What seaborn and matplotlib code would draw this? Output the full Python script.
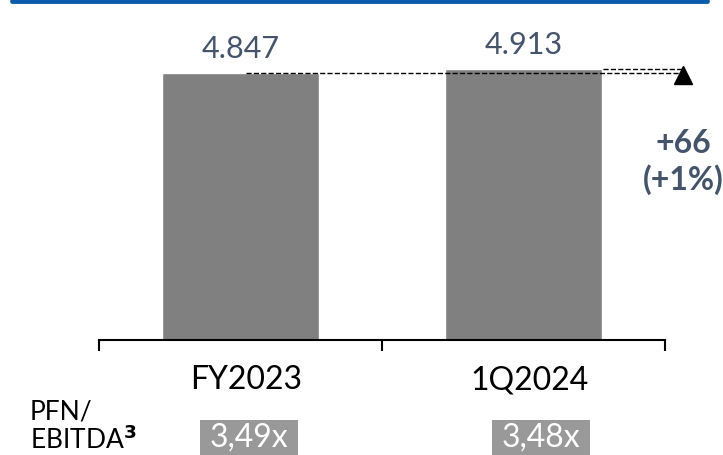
import matplotlib
matplotlib.use("Agg")
import matplotlib.pyplot as plt
import seaborn as sns
import pandas as pd

# data
periods = ["FY2023", "1Q2024"]
debt = [4847, 4913]
value_labels = ["4.847", "4.913"]
leverage = ["3,49x", "3,48x"]
delta_label = "+66\n(+1%)"

sns.set_theme(style="white")
plt.rcParams["font.family"] = ["Lato", "DejaVu Sans"]

df = pd.DataFrame({"period": periods, "debt": debt})

fig = plt.figure(figsize=(7.23, 4.56), dpi=100)
ax = fig.add_axes([99 / 723, 115 / 456, 566 / 723, 309 / 456])

sns.barplot(data=df, x="period", y="debt", color="#808080", saturation=1,
            width=0.555, ax=ax)
ax.set_xlim(-0.5, 1.5)
ax.set_ylim(0, 5610)

# value labels on top
for i, lab in enumerate(value_labels):
    ax.text(i, debt[i] + 200, lab, ha="center", va="bottom",
            fontsize=22, color="#44546A")

# dashed reference lines and arrow
ax.plot([0.02, 1.56], [debt[0], debt[0]], ls="--", color="black", lw=1,
        clip_on=False)
ax.plot([1.28, 1.56], [debt[1], debt[1]], ls="--", color="black", lw=1,
        clip_on=False)
ax.plot([1.565], [debt[1] - 110], marker="^", color="black", ms=13,
        clip_on=False)
ax.text(1.565, 3250, delta_label, ha="center", va="center", fontsize=23,
        fontweight="bold", color="#44546A", linespacing=1.25)

# axis styling
sns.despine(ax=ax, left=True, top=True, right=True)
ax.spines["bottom"].set_color("black")
ax.spines["bottom"].set_linewidth(1.5)
ax.set_yticks([])
ax.set_xticks([-0.5, 0.5, 1.5], minor=False)
ax.set_xticklabels([])
ax.tick_params(axis="x", direction="out", length=8, width=1.5, color="black",
               bottom=True)
for i, p in enumerate(periods):
    ax.text(i + 0.02, -440, p, ha="center", va="top", fontsize=23,
            color="black")
ax.set_xlabel("")
ax.set_ylabel("")

# top blue rule
fig.add_artist(plt.Line2D([12 / 723, 707 / 723], [1 - 2 / 456, 1 - 2 / 456],
                          color="#0B5CAB", lw=3.5))

# leverage row
fig.text(30 / 723, 1 - 412 / 456, "PFN/", ha="left", va="center",
         fontsize=19, color="black")
fig.text(30 / 723, 1 - 440 / 456, "EBITDA$^\\mathbf{3}$", ha="left",
         va="center", fontsize=19, color="black")
box_w = 98
for i, lab in enumerate(leverage):
    xc = ax.transData.transform((i, 0))[0] + 8 + 9 * i
    fig.add_artist(plt.Rectangle(((xc - box_w / 2) / 723, 0), box_w / 723,
                                 35 / 456, transform=fig.transFigure,
                                 fc="#999999", ec="none"))
    fig.text(xc / 723, 18 / 456, lab, ha="center", va="center", fontsize=23,
             color="white")

fig.savefig("out.png", dpi=100)
